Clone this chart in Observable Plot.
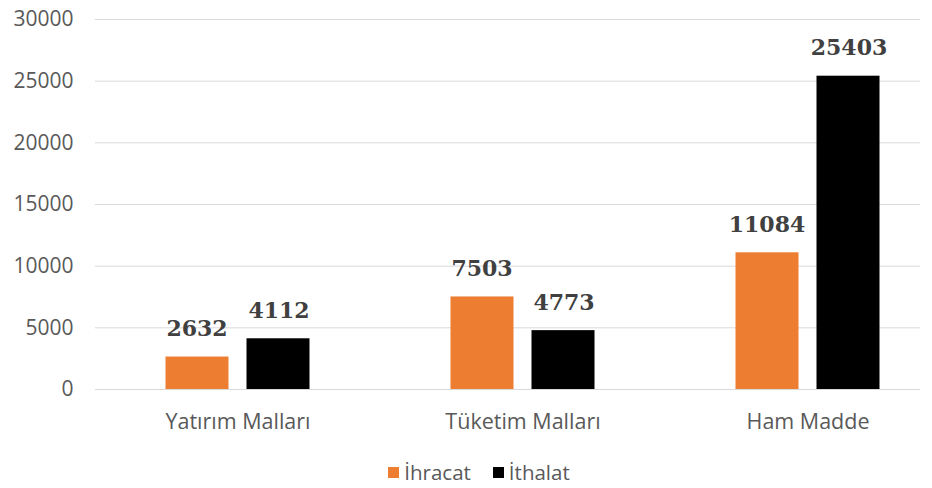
<!DOCTYPE html>
<html>
<head>
<meta charset="utf-8">
<script src="https://cdn.jsdelivr.net/npm/d3@7"></script>
<script src="https://cdn.jsdelivr.net/npm/@observablehq/plot@0.6"></script>
<style>
  body { margin: 0; background: #fff; font-family: "Open Sans", sans-serif; }
  #legend { display: flex; justify-content: center; align-items: center; gap: 22px; height: 28px; margin-top: 18px; padding-left: 26px; color: #595959; font-size: 20.5px; line-height: 28px; }
  #legend span.sw { display: inline-block; width: 11px; height: 11px; margin-right: 5px; }
  #legend .item { display: flex; align-items: center; }
</style>
</head>
<body>
<div id="chart"></div>
<div id="legend"></div>
<script>
const categories = ["Yatırım Malları", "Tüketim Malları", "Ham Madde"];
const series = ["İhracat", "İthalat"];
const ihracat = [2632, 7503, 11084];
const ithalat = [4112, 4773, 25403];
const yTicks = [0, 5000, 10000, 15000, 20000, 25000, 30000];
const colors = ["#ED7D31", "#000000"];

const data = [];
categories.forEach((c, i) => {
  data.push({category: c, series: series[0], value: ihracat[i]});
  data.push({category: c, series: series[1], value: ithalat[i]});
});
const exp = data.filter(d => d.series === series[0]);
const imp = data.filter(d => d.series === series[1]);

const labelFont = {fontFamily: "DejaVu Serif", fontWeight: "bold", fontSize: 22, fill: "#404040"};

const chart = Plot.plot({
  width: 932,
  height: 440,
  marginTop: 19,
  marginBottom: 51,
  marginLeft: 95,
  marginRight: 12,
  style: {fontFamily: "Open Sans", background: "white", display: "block"},
  x: {domain: categories, range: [94.5, 949.5], padding: 0, label: null},
  y: {domain: [0, 30000], label: null},
  marks: [
    Plot.ruleY(yTicks, {stroke: "#d9d9d9", strokeWidth: 1}),
    Plot.axisY({ticks: yTicks, tickSize: 0, tickPadding: 22, fontSize: 21, fill: "#595959", tickFormat: d => String(d), label: null}),
    Plot.axisX({tickSize: 0, tickPadding: 24, fontSize: 21.5, fill: "#595959", label: null}),
    Plot.barY(exp, {x: "category", y: "value", fill: colors[0], insetLeft: 70.5, insetRight: 151.5}),
    Plot.barY(imp, {x: "category", y: "value", fill: colors[1], insetLeft: 151.5, insetRight: 70.5}),
    Plot.text(exp, {x: "category", y: "value", text: d => String(d.value), dx: -41, dy: -28, ...labelFont}),
    Plot.text(imp, {x: "category", y: "value", text: d => String(d.value), dx: 41, dy: -28, ...labelFont})
  ]
});
document.getElementById("chart").appendChild(chart);

const legend = document.getElementById("legend");
series.forEach((s, i) => {
  const item = document.createElement("div");
  item.className = "item";
  const sw = document.createElement("span");
  sw.className = "sw";
  sw.style.background = colors[i];
  item.appendChild(sw);
  item.appendChild(document.createTextNode(s));
  legend.appendChild(item);
});
</script>
</body>
</html>
